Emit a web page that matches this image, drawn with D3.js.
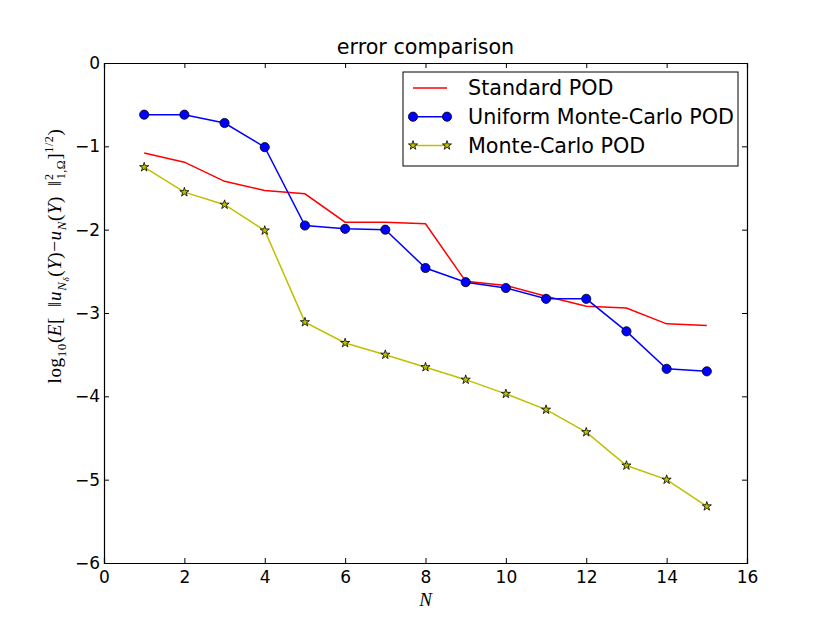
<!DOCTYPE html>
<html>
<head>
<meta charset="utf-8">
<script src="https://cdn.jsdelivr.net/npm/d3@7"></script>
<style>
  body { margin: 0; background: #fff; }
</style>
</head>
<body>
<div id="chart"></div>
<script>
// data
const N = [1, 2, 3, 4, 5, 6, 7, 8, 9, 10, 11, 12, 13, 14, 15];
const standardPOD = [-1.08, -1.19, -1.42, -1.53, -1.57, -1.91, -1.91, -1.93, -2.62, -2.67, -2.80, -2.92, -2.94, -3.13, -3.15];
const uniformMCPOD = [-0.62, -0.62, -0.72, -1.01, -1.95, -1.99, -2.00, -2.46, -2.63, -2.70, -2.83, -2.83, -3.22, -3.67, -3.70];
const mcPOD = [-1.25, -1.55, -1.70, -2.01, -3.11, -3.36, -3.50, -3.65, -3.80, -3.97, -4.16, -4.43, -4.83, -5.00, -5.32];
const xTicks = [0, 2, 4, 6, 8, 10, 12, 14, 16];
const yTicks = [0, -1, -2, -3, -4, -5, -6];

const width = 830;
const height = 626;
const margin = { top: 63, right: 83, bottom: 63, left: 104 };
const sans = '"DejaVu Sans", sans-serif';
const serif = '"Liberation Serif", "DejaVu Serif", serif';

const svg = d3.select('#chart')
    .append('svg')
    .attr('width', width)
    .attr('height', height)
    .style('font-family', sans);

const x = d3.scaleLinear().domain([0, 16]).range([margin.left, width - margin.right]);
const y = d3.scaleLinear().domain([-6, 0]).range([height - margin.bottom, margin.top]);

const fmt = d => String(d).replace('-', '\u2212');

// axes, ticks pointing inward on all four sides
svg.append('g')
    .attr('transform', `translate(0,${height - margin.bottom})`)
    .call(d3.axisBottom(x).tickValues(xTicks).tickSize(-5).tickPadding(8).tickFormat(fmt));
svg.append('g')
    .attr('transform', `translate(0,${margin.top})`)
    .call(d3.axisTop(x).tickValues(xTicks).tickSize(-5).tickFormat(''));
svg.append('g')
    .attr('transform', `translate(${margin.left},0)`)
    .call(d3.axisLeft(y).tickValues(yTicks).tickSize(-5).tickPadding(4).tickFormat(fmt));
svg.append('g')
    .attr('transform', `translate(${width - margin.right},0)`)
    .call(d3.axisRight(y).tickValues(yTicks).tickSize(-5).tickFormat(''));

svg.selectAll('.domain').attr('stroke', '#000').attr('stroke-width', 1.2);
svg.selectAll('.tick line').attr('stroke', '#000');
svg.selectAll('.tick text')
    .style('font-family', sans)
    .style('font-size', '17px')
    .attr('fill', '#000');

// lines
const line = d3.line().x((d, i) => x(N[i])).y(d => y(d));

svg.append('path').datum(standardPOD)
    .attr('d', line).attr('fill', 'none').attr('stroke', '#ff0000').attr('stroke-width', 1.5);

svg.append('path').datum(uniformMCPOD)
    .attr('d', line).attr('fill', 'none').attr('stroke', '#0000ff').attr('stroke-width', 1.5);

svg.append('path').datum(mcPOD)
    .attr('d', line).attr('fill', 'none').attr('stroke', '#bfbf00').attr('stroke-width', 1.5);

// markers
const star = d3.symbol().type(d3.symbolStar).size(26);

svg.append('g').selectAll('circle')
    .data(uniformMCPOD)
    .enter()
    .append('circle')
    .attr('cx', (d, i) => x(N[i]))
    .attr('cy', d => y(d))
    .attr('r', 4.6)
    .attr('fill', '#0000ff')
    .attr('stroke', '#000')
    .attr('stroke-width', 0.8);

svg.append('g').selectAll('path')
    .data(mcPOD)
    .enter()
    .append('path')
    .attr('d', star)
    .attr('transform', (d, i) => `translate(${x(N[i])},${y(d)})`)
    .attr('fill', '#bfbf00')
    .attr('stroke', '#000')
    .attr('stroke-width', 0.8);

// title and labels
svg.append('text')
    .attr('x', (margin.left + width - margin.right) / 2)
    .attr('y', 54)
    .attr('text-anchor', 'middle')
    .style('font-size', '20.7px')
    .text('error comparison');

svg.append('text')
    .attr('x', x(8))
    .attr('y', 606)
    .attr('text-anchor', 'middle')
    .style('font-family', serif)
    .style('font-style', 'italic')
    .style('font-size', '19px')
    .text('N');

// y label (math-ish text)
const ylg = svg.append('g');
const yl = ylg.append('text')
    .style('font-family', serif)
    .style('font-size', '19px')
    .style('letter-spacing', '0.6px');
const sub = (t, s, dy, it) => yl.append('tspan')
    .style('font-size', s + 'px').style('font-style', it ? 'italic' : 'normal')
    .attr('dy', dy).text(t);
sub('log', 19, 0);
sub('10', 13, 5);
sub('(', 19, -5);
sub('E', 19, 0, true);
sub('[\u2002\u2016', 19, 0);
sub('u', 19, 0, true);
sub('N', 13, 5, true);
sub('\u03b4', 9, 3, true);
sub('(', 19, -8);
sub('Y', 19, 0, true);
sub(')\u2212', 19, 0);
sub('u', 19, 0, true);
sub('N', 13, 5, true);
sub('(', 19, -5);
sub('Y', 19, 0, true);
sub(')\u2002\u2016', 19, 0);
sub('2', 12, -8);
yl.append('tspan').style('font-size', '12px').attr('dx', -6).attr('dy', 12).text('1,\u03a9');
sub(']', 19, -4);
sub('1/2', 12, -8);
sub(')', 19, 8);

const bb = yl.node().getBBox();
ylg.attr('transform', `translate(61,256) rotate(-90) translate(${-(bb.x + bb.width / 2)},0)`);

// legend
const legendItems = [
    { label: 'Standard POD', color: '#ff0000', marker: null },
    { label: 'Uniform Monte-Carlo POD', color: '#0000ff', marker: 'circle' },
    { label: 'Monte-Carlo POD', color: '#bfbf00', marker: 'star' }
];

const legend = svg.append('g');
legend.append('rect')
    .attr('x', 403)
    .attr('y', 72)
    .attr('width', 335)
    .attr('height', 94)
    .attr('fill', '#fff')
    .attr('stroke', '#000')
    .attr('stroke-width', 1);

legendItems.forEach((d, i) => {
    const cy = 88 + i * 28.7;
    legend.append('line')
        .attr('x1', 413).attr('x2', 447)
        .attr('y1', cy).attr('y2', cy)
        .attr('stroke', d.color).attr('stroke-width', 1.5);
    [413, 447].forEach(mx => {
        if (d.marker === 'circle') {
            legend.append('circle')
                .attr('cx', mx).attr('cy', cy).attr('r', 4.6)
                .attr('fill', d.color).attr('stroke', '#000').attr('stroke-width', 0.8);
        } else if (d.marker === 'star') {
            legend.append('path')
                .attr('d', star)
                .attr('transform', `translate(${mx},${cy})`)
                .attr('fill', d.color).attr('stroke', '#000').attr('stroke-width', 0.8);
        }
    });
    legend.append('text')
        .attr('x', 468)
        .attr('y', cy)
        .attr('dy', '0.35em')
        .style('font-size', '20.7px')
        .text(d.label);
});
</script>
</body>
</html>
